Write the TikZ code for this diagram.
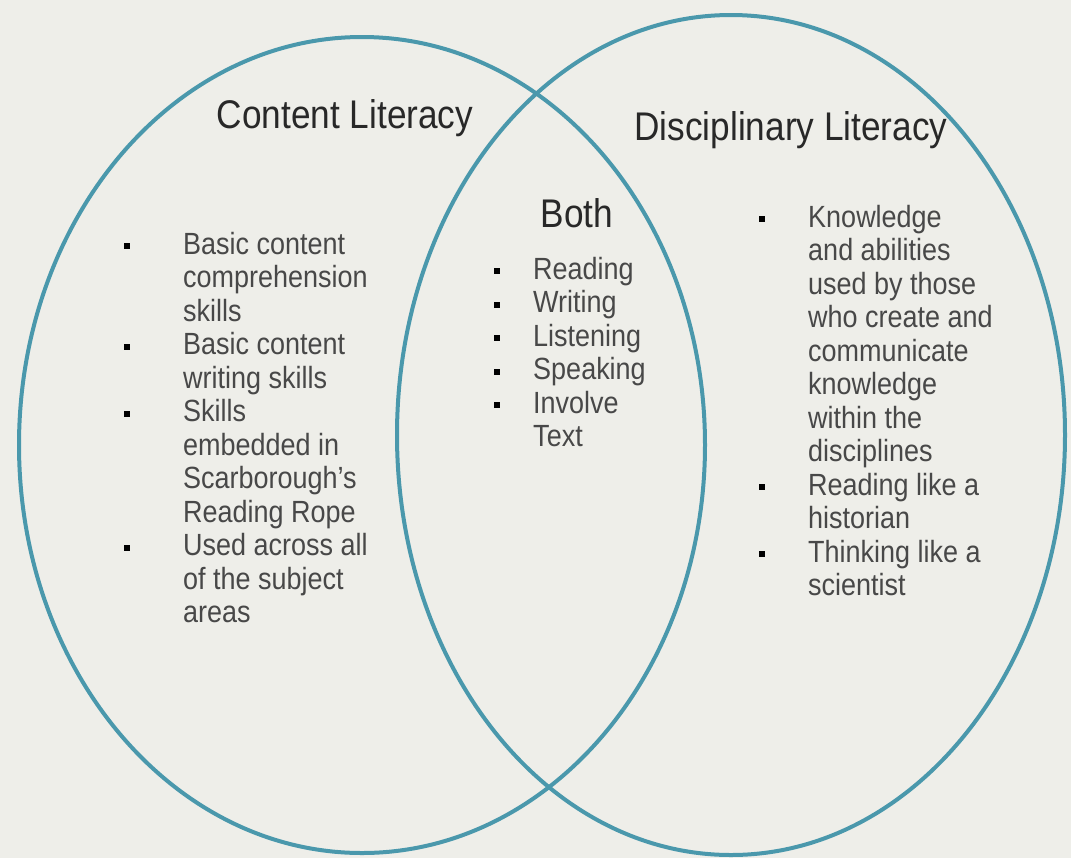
\documentclass[tikz,border=0pt]{standalone}
\usepackage{fontspec}
\setmainfont{Liberation Sans}
\definecolor{ringblue}{RGB}{74,152,172}
\definecolor{paper}{RGB}{238,238,233}
\definecolor{ink}{RGB}{40,40,40}
\tikzset{
  ring/.style = {draw = ringblue, line width = 3pt},
  headtext/.style = {text = ink, font = \fontsize{30}{32}\selectfont,
    xscale = .88, inner sep = 0pt},
  listtext/.style = {text = ink!85, font = \fontsize{23}{25.1}\selectfont,
    xscale = .88, align = left, inner sep = 0pt, anchor = base west},
  bulletbox/.style = {fill = black, inner sep = 0pt, minimum size = 4.5pt},
}
\begin{document}
\begin{tikzpicture}[x = .75pt, y = -.75pt]
  % draws the paper
  \fill[paper] (0,0) rectangle (1071,858);
  \useasboundingbox (0,0) rectangle (1071,858);

  % draws the two rings
  \draw[ring] (362,445) ellipse [x radius = 343, y radius = 408];
  \draw[ring] (731,435) ellipse [x radius = 334, y radius = 420];

  % draws the headings
  \node[headtext] (content) at (345,118) {Content Literacy};
  \node[headtext] (disc) at (791,130) {Disciplinary Literacy};
  \node[headtext] (both) at (577,213) {Both};

  % draws the lists (placed by the baseline of their last line)
  \node[listtext] (leftlist) at (183,622.5) {Basic content\\comprehension\\skills\\
    Basic content\\writing skills\\Skills\\embedded in\\Scarborough's\\
    Reading Rope\\Used across all\\of the subject\\areas};
  \node[listtext] (midlist) at (533,446.5) {Reading\\Writing\\Listening\\
    Speaking\\Involve\\Text};
  \node[listtext] (rightlist) at (808,595.5) {Knowledge\\and abilities\\
    used by those\\who create and\\communicate\\knowledge\\within the\\
    disciplines\\Reading like a\\historian\\Thinking like a\\scientist};

  % draws the bullets
  \foreach \y [count = \i] in {246, 346.5, 413.5, 547.5}
    \node[bulletbox] (lb\i) at (127,\y) {};
  \foreach \y [count = \i] in {271, 304.5, 338, 371.5, 405}
    \node[bulletbox] (mb\i) at (497,\y) {};
  \foreach \y [count = \i] in {219, 487, 554}
    \node[bulletbox] (rb\i) at (762,\y) {};
\end{tikzpicture}
\end{document}
